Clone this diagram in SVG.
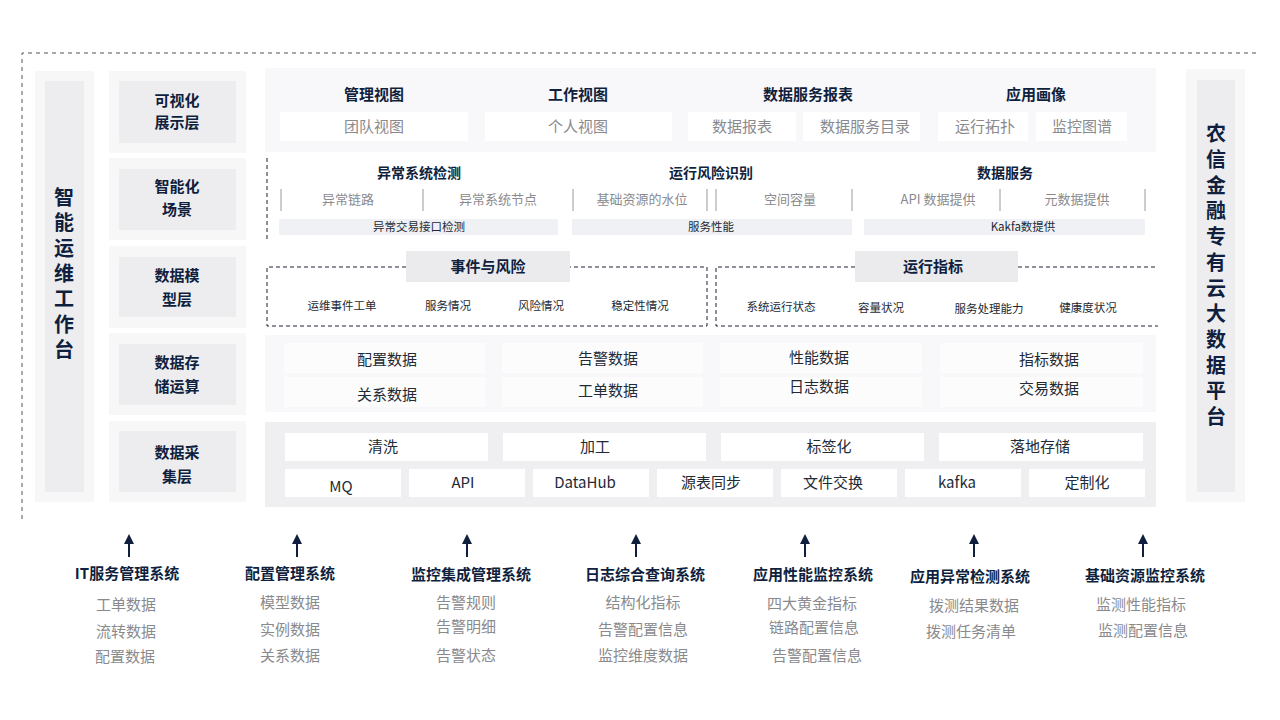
<svg xmlns="http://www.w3.org/2000/svg" width="1280" height="720" viewBox="0 0 1280 720">
<defs>
<marker id="ah" viewBox="0 0 10 10" refX="1" refY="5" markerWidth="10" markerHeight="10" markerUnits="userSpaceOnUse" orient="auto">
<path d="M0,0 L10,5 L0,10 Z" fill="#0f1f3d"/>
</marker>
<style>
text{font-family:"Noto Sans CJK SC","Noto Sans",sans-serif;text-anchor:middle;dominant-baseline:central;transform:translate(0px,-1.5px)}
.b{font-weight:bold;fill:#0f1f3d}
.t15{font-size:15px}
.t14{font-size:14px}
.t13{font-size:13px}
.t11{font-size:11.5px}
.g{fill:#8a8a8e}
.d{fill:#222a36}
.vt{font-size:20px;font-weight:bold;fill:#0f1f3d;writing-mode:vertical-rl;transform:none}
.outer{fill:#f7f7f8}
.inner{fill:#ededf0}
.band{fill:#f8f8fa}
.cell{fill:#ffffff}
.cell2{fill:#fcfcfd}
.bar{fill:#f0f1f4}
.sep{stroke:#9a9aa0;stroke-width:1}
.dash{fill:none;stroke:#1a2333;stroke-width:1;stroke-dasharray:4,3}
.frame{fill:none;stroke:#555;stroke-width:1;stroke-dasharray:4,4}
.tab{fill:#ebebee}
.conn{stroke:#0f1f3d;stroke-width:2;fill:none}
</style>
</defs>
<rect width="1280" height="720" fill="#ffffff"/>
<path class="frame" d="M22,519 L22,53 L1258,53"/>

<g id="left-panel">
<rect class="outer" x="35" y="71" width="59" height="431"/>
<rect class="inner" x="45" y="81" width="39" height="411"/>
<text class="vt" x="64" y="276" style="letter-spacing:5.3px">智能运维工作台</text>
</g>

<g id="right-panel">
<rect class="outer" x="1186" y="69" width="59" height="433"/>
<rect class="inner" x="1197" y="80" width="38" height="412"/>
<text class="vt" x="1216" y="278" style="letter-spacing:5.7px">农信金融专有云大数据平台</text>
</g>

<g id="layer-visual">
<rect class="outer" x="109" y="71" width="137" height="82"/>
<rect class="inner" x="119" y="81" width="117" height="62"/>
<text class="b t15" x="177" y="101">可视化</text>
<text class="b t15" x="177" y="123">展示层</text>
</g>
<g id="layer-scene">
<rect class="outer" x="109" y="158" width="137" height="82"/>
<rect class="inner" x="119" y="169" width="117" height="61"/>
<text class="b t15" x="177" y="187">智能化</text>
<text class="b t15" x="177" y="210">场景</text>
</g>
<g id="layer-model">
<rect class="outer" x="109" y="246" width="137" height="82"/>
<rect class="inner" x="119" y="257" width="117" height="60"/>
<text class="b t15" x="177" y="276">数据模</text>
<text class="b t15" x="177" y="300">型层</text>
</g>
<g id="layer-storage">
<rect class="outer" x="109" y="333" width="137" height="82"/>
<rect class="inner" x="119" y="344" width="117" height="61"/>
<text class="b t15" x="177" y="363">数据存</text>
<text class="b t15" x="177" y="387">储运算</text>
</g>
<g id="layer-collect">
<rect class="outer" x="109" y="421" width="137" height="81"/>
<rect class="inner" x="119" y="431" width="117" height="61"/>
<text class="b t15" x="177" y="453">数据采</text>
<text class="b t15" x="177" y="477">集层</text>
</g>

<g id="row-visual">
<rect class="band" x="265" y="68" width="891" height="84"/>
<text class="b t15" x="374" y="95">管理视图</text>
<rect class="cell" x="280" y="112" width="188" height="29"/>
<text class="g t15" x="374" y="127">团队视图</text>
<text class="b t15" x="578" y="95">工作视图</text>
<rect class="cell" x="485" y="112" width="187" height="29"/>
<text class="g t15" x="578" y="127">个人视图</text>
<text class="b t15" x="808" y="95">数据服务报表</text>
<rect class="cell" x="688" y="112" width="108" height="29"/>
<text class="g t15" x="742" y="127">数据报表</text>
<rect class="cell" x="803" y="112" width="117" height="29"/>
<text class="g t15" x="865" y="127">数据服务目录</text>
<text class="b t15" x="1036" y="95">应用画像</text>
<rect class="cell" x="938" y="112" width="90" height="29"/>
<text class="g t15" x="985" y="127">运行拓扑</text>
<rect class="cell" x="1036" y="112" width="91" height="29"/>
<text class="g t15" x="1082" y="127">监控图谱</text>
</g>

<g id="row-scene">
<line class="dash" x1="267" y1="158" x2="267" y2="240"/>
<text class="b t14" x="419" y="173">异常系统检测</text>
<text class="b t14" x="711" y="173">运行风险识别</text>
<text class="b t14" x="1005" y="173">数据服务</text>
<line class="sep" x1="281" y1="189" x2="281" y2="211"/>
<line class="sep" x1="423" y1="189" x2="423" y2="211"/>
<line class="sep" x1="573" y1="189" x2="573" y2="211"/>
<line class="sep" x1="707" y1="189" x2="707" y2="211"/>
<line class="sep" x1="716" y1="189" x2="716" y2="211"/>
<line class="sep" x1="852" y1="189" x2="852" y2="211"/>
<line class="sep" x1="1000" y1="189" x2="1000" y2="211"/>
<line class="sep" x1="1145" y1="189" x2="1145" y2="211"/>
<text class="g t13" x="348" y="200">异常链路</text>
<text class="g t13" x="498" y="200">异常系统节点</text>
<text class="g t13" x="642" y="200">基础资源的水位</text>
<text class="g t13" x="790" y="200">空间容量</text>
<text class="g t13" x="938" y="200">API 数据提供</text>
<text class="g t13" x="1077" y="200">元数据提供</text>
<rect class="bar" x="279" y="219" width="279" height="16"/>
<text class="d t11" x="419" y="227">异常交易接口检测</text>
<rect class="bar" x="572" y="219" width="280" height="16"/>
<text class="d t11" x="711" y="227">服务性能</text>
<rect class="bar" x="864" y="219" width="281" height="16"/>
<text class="d t11" x="1023" y="227">Kakfa数提供</text>
</g>

<g id="row-model-event">
<path class="dash" d="M406,267 L267,267 L267,326 L707,326 L707,267 L570,267"/>
<rect class="tab" x="406" y="251" width="164" height="31"/>
<text class="b t15" x="488" y="267">事件与风险</text>
<text class="d t11" x="342" y="306">运维事件工单</text>
<text class="d t11" x="448" y="306">服务情况</text>
<text class="d t11" x="541" y="306">风险情况</text>
<text class="d t11" x="640" y="306">稳定性情况</text>
</g>
<g id="row-model-metric">
<path class="dash" d="M855,267 L716,267 L716,326 L1158,326"/>
<line class="dash" x1="1018" y1="267" x2="1158" y2="267"/>
<rect class="tab" x="855" y="251" width="163" height="31"/>
<text class="b t15" x="933" y="267">运行指标</text>
<text class="d t11" x="781" y="307">系统运行状态</text>
<text class="d t11" x="881" y="308">容量状况</text>
<text class="d t11" x="989" y="309">服务处理能力</text>
<text class="d t11" x="1088" y="308">健康度状况</text>
</g>

<g id="row-storage">
<rect class="band" x="265" y="335" width="891" height="77"/>
<rect class="cell2" x="284" y="343" width="201" height="30"/>
<rect class="cell2" x="284" y="377" width="201" height="30"/>
<rect class="cell2" x="502" y="343" width="201" height="30"/>
<rect class="cell2" x="502" y="377" width="201" height="30"/>
<rect class="cell2" x="720" y="343" width="202" height="30"/>
<rect class="cell2" x="720" y="377" width="202" height="30"/>
<rect class="cell2" x="940" y="343" width="203" height="30"/>
<rect class="cell2" x="940" y="377" width="203" height="30"/>
<text class="d t15" x="387" y="360">配置数据</text>
<text class="d t15" x="387" y="395">关系数据</text>
<text class="d t15" x="608" y="359">告警数据</text>
<text class="d t15" x="608" y="391">工单数据</text>
<text class="d t15" x="819" y="358">性能数据</text>
<text class="d t15" x="819" y="387">日志数据</text>
<text class="d t15" x="1049" y="360">指标数据</text>
<text class="d t15" x="1049" y="389">交易数据</text>
</g>

<g id="row-collect">
<rect fill="#efeff2" x="265" y="422" width="891" height="85"/>
<rect class="cell" x="285" y="433" width="203" height="28"/>
<rect class="cell" x="503" y="433" width="203" height="28"/>
<rect class="cell" x="721" y="433" width="203" height="28"/>
<rect class="cell" x="939" y="433" width="204" height="28"/>
<text class="d t15" x="383" y="447">清洗</text>
<text class="d t15" x="595" y="447">加工</text>
<text class="d t15" x="829" y="447">标签化</text>
<text class="d t15" x="1040" y="447">落地存储</text>
<rect class="cell" x="285" y="469" width="116" height="28"/>
<rect class="cell" x="409" y="469" width="116" height="28"/>
<rect class="cell" x="533" y="469" width="116" height="28"/>
<rect class="cell" x="657" y="469" width="116" height="28"/>
<rect class="cell" x="781" y="469" width="116" height="28"/>
<rect class="cell" x="905" y="469" width="116" height="28"/>
<rect class="cell" x="1029" y="469" width="116" height="28"/>
<text class="d t15" x="341" y="487">MQ</text>
<text class="d t15" x="463" y="483">API</text>
<text class="d t15" x="585" y="483">DataHub</text>
<text class="d t15" x="711" y="483">源表同步</text>
<text class="d t15" x="833" y="483">文件交换</text>
<text class="d t15" x="957" y="483">kafka</text>
<text class="d t15" x="1087" y="483">定制化</text>
</g>

<g id="connectors">
<line class="conn" x1="129" y1="557" x2="129" y2="543" marker-end="url(#ah)"/>
<line class="conn" x1="297" y1="557" x2="297" y2="543" marker-end="url(#ah)"/>
<line class="conn" x1="467" y1="557" x2="467" y2="543" marker-end="url(#ah)"/>
<line class="conn" x1="636" y1="557" x2="636" y2="543" marker-end="url(#ah)"/>
<line class="conn" x1="805" y1="557" x2="805" y2="543" marker-end="url(#ah)"/>
<line class="conn" x1="974" y1="557" x2="974" y2="543" marker-end="url(#ah)"/>
<line class="conn" x1="1143" y1="557" x2="1143" y2="543" marker-end="url(#ah)"/>
</g>

<g id="src-itsm">
<text class="b t15" x="127" y="574">IT服务管理系统</text>
<text class="g t15" x="126" y="605">工单数据</text>
<text class="g t15" x="126" y="632">流转数据</text>
<text class="g t15" x="125" y="657">配置数据</text>
</g>
<g id="src-cmdb">
<text class="b t15" x="290" y="574">配置管理系统</text>
<text class="g t15" x="290" y="603">模型数据</text>
<text class="g t15" x="290" y="630">实例数据</text>
<text class="g t15" x="290" y="656">关系数据</text>
</g>
<g id="src-monitor">
<text class="b t15" x="471" y="575">监控集成管理系统</text>
<text class="g t15" x="466" y="603">告警规则</text>
<text class="g t15" x="466" y="627">告警明细</text>
<text class="g t15" x="466" y="656">告警状态</text>
</g>
<g id="src-log">
<text class="b t15" x="645" y="575">日志综合查询系统</text>
<text class="g t15" x="643" y="603">结构化指标</text>
<text class="g t15" x="643" y="630">告警配置信息</text>
<text class="g t15" x="643" y="656">监控维度数据</text>
</g>
<g id="src-apm">
<text class="b t15" x="813" y="575">应用性能监控系统</text>
<text class="g t15" x="812" y="604">四大黄金指标</text>
<text class="g t15" x="814" y="628">链路配置信息</text>
<text class="g t15" x="817" y="656">告警配置信息</text>
</g>
<g id="src-anomaly">
<text class="b t15" x="970" y="577">应用异常检测系统</text>
<text class="g t15" x="974" y="606">拨测结果数据</text>
<text class="g t15" x="971" y="632">拨测任务清单</text>
</g>
<g id="src-infra">
<text class="b t15" x="1145" y="576">基础资源监控系统</text>
<text class="g t15" x="1141" y="605">监测性能指标</text>
<text class="g t15" x="1143" y="631">监测配置信息</text>
</g>
</svg>
